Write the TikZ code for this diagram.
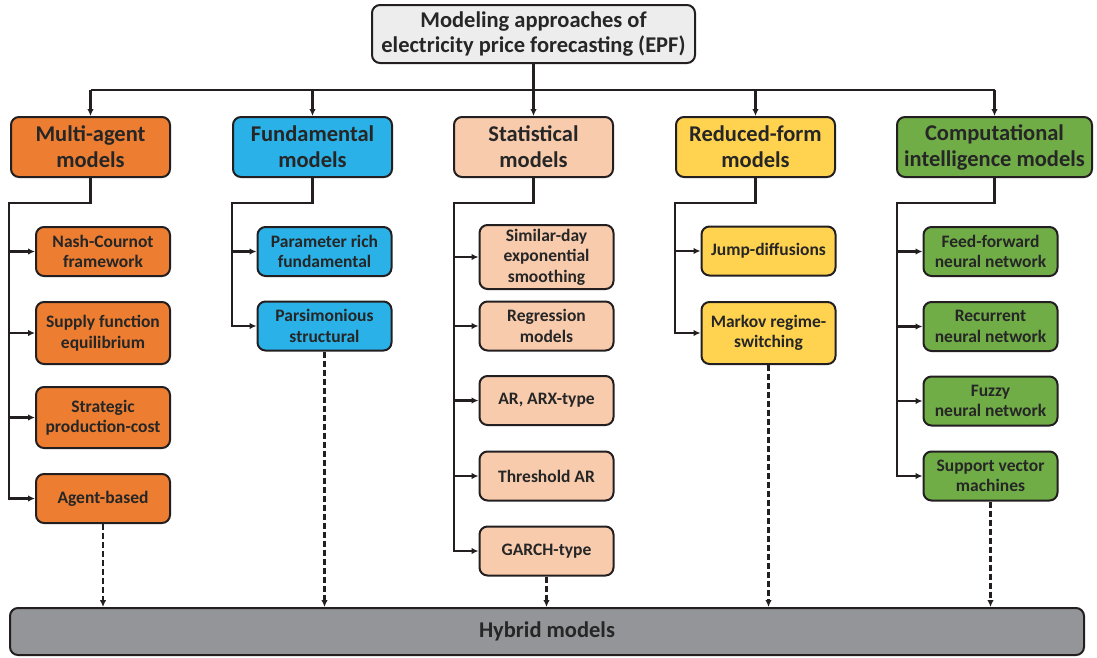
\documentclass[tikz,border=0pt]{standalone}
\usepackage{fontspec}
\setmainfont{Carlito}
\usetikzlibrary{arrows.meta}

\definecolor{inkc}{HTML}{231F20}
\definecolor{txtc}{HTML}{262626}
\definecolor{topfill}{HTML}{EDEDED}
\definecolor{orangef}{HTML}{ED7D31}
\definecolor{bluef}{HTML}{29B1E8}
\definecolor{peachf}{HTML}{F8CBAD}
\definecolor{yellowf}{HTML}{FFD34F}
\definecolor{greenf}{HTML}{70AD47}
\definecolor{grayf}{HTML}{939598}

\tikzset{
  x=1pt, y=-1pt,
  box/.style={draw=inkc, line width=2pt, rounded corners=8pt, align=center,
              text=txtc, inner sep=0pt, font=\bfseries},
  headbox/.style={box, minimum width=159pt, minimum height=60pt,
                  font=\fontsize{22.5}{26}\selectfont\bfseries},
  subbox/.style={box, minimum width=134pt, minimum height=49pt,
                 font=\fontsize{17.5}{20.5}\selectfont\bfseries},
  link/.style={draw=inkc, line width=2.6pt},
  arr/.style={link, -{Latex[length=7pt,width=6.5pt]}},
  dasharr/.style={arr, dash pattern=on 6pt off 3pt},
}

\begin{document}
\begin{tikzpicture}
\useasboundingbox (0,0) rectangle (1097,657);

% root
\node[box, fill=topfill, minimum width=323pt, minimum height=58pt,
      font=\fontsize{22.5}{25.5}\selectfont\bfseries] (root) at (533.5,34)
  {Modeling approaches of\\electricity price forecasting (EPF)};

% model families
\node[headbox, fill=orangef] (ma) at (90.5,147) {Multi-agent\\models};
\node[headbox, fill=bluef]   (fu) at (312.5,147) {Fundamental\\models};
\node[headbox, fill=peachf]  (st) at (533.5,147) {Statistical\\models};
\node[headbox, fill=yellowf] (rf) at (755.5,147) {Reduced-form\\models};
\node[headbox, fill=greenf, minimum width=195pt] (ci) at (994.5,147)
  {Computational\\intelligence models};

% multi-agent
\node[subbox, fill=orangef] (a1) at (103,251.5) {Nash-Cournot\\framework};
\node[subbox, fill=orangef, minimum height=62pt] (a2) at (103,333) {Supply function\\equilibrium};
\node[subbox, fill=orangef, minimum height=61pt] (a3) at (103,417.5) {Strategic\\production-cost};
\node[subbox, fill=orangef] (a4) at (103,498.5) {Agent-based};

% fundamental
\node[subbox, fill=bluef] (f1) at (324.5,251.5) {Parameter rich\\fundamental};
\node[subbox, fill=bluef] (f2) at (324.5,326) {Parsimonious\\structural};

% statistical
\node[subbox, fill=peachf, minimum height=64pt] (s1) at (546.5,257) {Similar-day\\exponential\\smoothing};
\node[subbox, fill=peachf] (s2) at (546.5,326) {Regression\\models};
\node[subbox, fill=peachf] (s3) at (546.5,400.5) {AR, ARX-type};
\node[subbox, fill=peachf] (s4) at (546.5,476) {Threshold AR};
\node[subbox, fill=peachf] (s5) at (546.5,551) {GARCH-type};

% reduced-form
\node[subbox, fill=yellowf] (r1) at (768.5,251) {Jump-diffusions};
\node[subbox, fill=yellowf, minimum height=62pt] (r2) at (768.5,333) {Markov regime-\\switching};

% computational intelligence
\node[subbox, fill=greenf] (c1) at (990.5,251.5) {Feed-forward\\neural network};
\node[subbox, fill=greenf] (c2) at (990.5,326.5) {Recurrent\\neural network};
\node[subbox, fill=greenf] (c3) at (990.5,401) {Fuzzy\\neural network};
\node[subbox, fill=greenf] (c4) at (990.5,476) {Support vector\\machines};

% hybrid
\node[box, fill=grayf, minimum width=1074pt, minimum height=47pt,
      font=\fontsize{22.5}{26}\selectfont\bfseries] (hy) at (547,631.5) {Hybrid models};

% bus from root to the families
\coordinate (busL) at (90.5,90);
\coordinate (busR) at (994.5,90);
\draw[link] (busL) -- (busR);
\draw[link] (root.south) -- (root.south |- busL);
\foreach \n in {ma,fu,st,rf,ci}
  \draw[arr] (\n.north |- busL) -- (\n.north);

% spines of each family
\coordinate (maK) at (9,203);
\coordinate (fuK) at (232,203);
\coordinate (stK) at (454,203);
\coordinate (rfK) at (675,203);
\coordinate (ciK) at (897,203);

\draw[arr] (ma.south) |- (maK) |- (a4.west);
\foreach \n in {a1,a2,a3} \draw[arr] (maK |- \n.west) -- (\n.west);

\draw[arr] (fu.south) |- (fuK) |- (f2.west);
\draw[arr] (fuK |- f1.west) -- (f1.west);

\draw[arr] (st.south) |- (stK) |- (s5.west);
\foreach \n in {s1,s2,s3,s4} \draw[arr] (stK |- \n.west) -- (\n.west);

\draw[arr] (rf.south) |- (rfK) |- (r2.west);
\draw[arr] (rfK |- r1.west) -- (r1.west);

\draw[arr] (ci.south) |- (ciK) |- (c4.west);
\foreach \n in {c1,c2,c3} \draw[arr] (ciK |- \n.west) -- (\n.west);

% links to hybrid models
\foreach \n in {a4,f2,s5,r2,c4}
  \draw[dasharr] (\n.south) -- (\n.south |- hy.north);
\end{tikzpicture}
\end{document}
